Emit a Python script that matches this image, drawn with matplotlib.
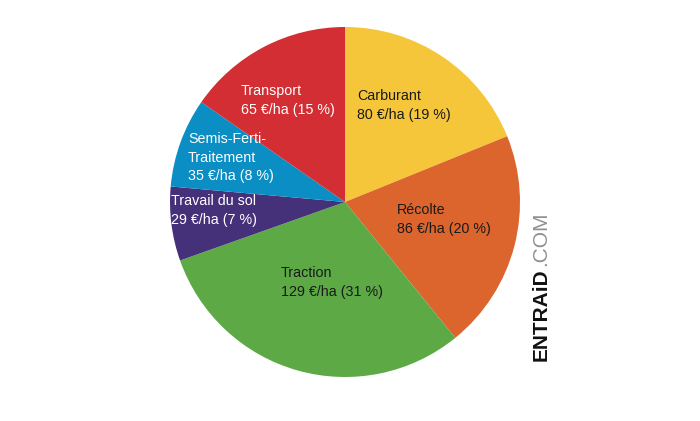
import matplotlib
matplotlib.use('Agg')
import matplotlib.pyplot as plt
from matplotlib import font_manager

categories = ['Carburant', 'Récolte', 'Traction', 'Travail du sol', 'Semis-Ferti-\nTraitement', 'Transport']
costs = [80, 86, 129, 29, 35, 65]
percents = [19, 20, 31, 7, 8, 15]
colors = ['#F5C63A', '#DC652E', '#5DA945', '#45307A', '#0A8EC4', '#D22E33']
text_colors = ['#1a1a1a', '#1a1a1a', '#1a1a1a', 'white', 'white', 'white']
# label anchor (left x, top y) in pixels of the 700x421 figure
label_pos = [(357, 89), (397, 203), (281, 266), (171, 194), (188, 132), (241, 84)]

names = {f.name for f in font_manager.fontManager.ttflist}
font = 'Liberation Sans Narrow' if 'Liberation Sans Narrow' in names else 'Liberation Sans'

W, H = 700, 421
fig = plt.figure(figsize=(W / 100, H / 100), dpi=100)
ax = fig.add_axes([170 / W, 44 / H, 350 / W, 350 / H])
ax.pie(costs, colors=colors, startangle=90, counterclock=False, radius=1,
       wedgeprops=dict(linewidth=0))
ax.set_xlim(-1, 1)
ax.set_ylim(-1, 1)
ax.set_aspect('equal')
ax.axis('off')

for name, cost, pct, col, (px, py) in zip(categories, costs, percents, text_colors, label_pos):
    txt = '{}\n{} €/ha ({} %)'.format(name, cost, pct)
    fig.text(px / W, 1 - py / H, txt, ha='left', va='top', color=col,
             fontsize=10.3, family=font, linespacing=1.42)

# watermark
fig.text(541 / W, 1 - 361 / H, 'ENTRAiD', rotation=90, ha='center', va='bottom',
         fontsize=15, fontweight='bold', family='Liberation Sans', color='#111111')
fig.text(541 / W, 1 - 266 / H, '.COM', rotation=90, ha='center', va='bottom',
         fontsize=15, family='Liberation Sans', color='#909090')

fig.savefig('out.png', dpi=100)
